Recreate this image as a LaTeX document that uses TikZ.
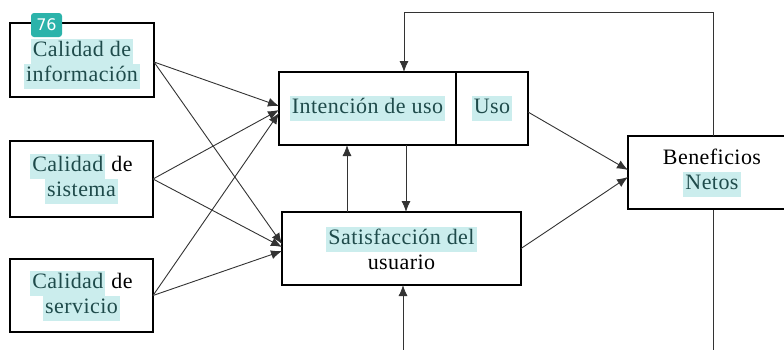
\documentclass[tikz,border=0pt]{standalone}
\usepackage{fontspec}
\setmainfont{Liberation Serif}
\newfontfamily\badgefont{DejaVu Sans}
\usetikzlibrary{arrows.meta,calc}
\definecolor{hlc}{HTML}{CBEDED}
\definecolor{hltxt}{HTML}{1F4B4B}
\definecolor{badge}{HTML}{2BB3AA}
\newcommand\hl[1]{{\setlength\fboxsep{0pt}\colorbox{hlc}{\hspace{2pt}\strut\color{hltxt}#1\hspace{2pt}}}}
\begin{document}
\begin{tikzpicture}[x=1pt,y=-1pt,
  box/.style={draw=black,line width=1.6pt,fill=white,inner sep=0pt,outer sep=0pt,
    align=center,font=\fontsize{22}{25}\selectfont\addfontfeatures{LetterSpace=2}},
  conn/.style={draw=black!80,line width=0.9pt},
  arr/.style={conn,-{Latex[length=11pt,width=9pt]}}]
\useasboundingbox (0,0) rectangle (784,349);
\fill[white] (0,0) rectangle (784,349);
% feedback loop (drawn first so boxes cover it)
\coordinate (fbT) at (713,12);
\coordinate (fbB) at (713,360);
% boxes
\node[box,minimum width=144pt,minimum height=74pt,text depth=0pt] (b1) at (82,60) {\hl{Calidad de}\\\hl{información}};
\node[box,minimum width=143pt,minimum height=76pt] (b2) at (81.5,179) {\hl{Calidad} de\\\hl{sistema}};
\node[box,minimum width=143pt,minimum height=73pt] (b3) at (81.5,295.5) {\hl{Calidad} de\\\hl{servicio}};
\node[box,minimum width=177pt,minimum height=73pt] (int) at (367.5,108.5) {\hl{Intención de uso}};
\node[box,minimum width=72pt,minimum height=73pt] (uso) at (492,108.5) {\hl{Uso}};
\node[box,minimum width=239pt,minimum height=73pt] (sat) at (401.5,248.5) {\hl{Satisfacción del}\\usuario};
\draw[conn] (fbT) -- (fbB);
\node[box,minimum width=168pt,minimum height=73pt] (ben) at (712,172.5) {Beneficios\\\hl{Netos}};
% feedback arrows
\draw[arr] (fbT |- ben.north) -- (fbT) -| ([xshift=36.5pt]int.north);
\draw[arr] (fbB) -| ([xshift=1.5pt]sat.south);
% quality to intention / satisfaction
\draw[arr] ([yshift=-2pt]b1.east) -- ([yshift=2.5pt]int.west);
\draw[arr] (b2.east) -- ([yshift=-1.5pt]int.west);
\draw[arr] (b3.east) -- ([yshift=-4.5pt]int.west);
\draw[arr] ([yshift=-2pt]b1.east) -- ([yshift=4.5pt]sat.west);
\draw[arr] (b2.east) -- ([yshift=1.5pt]sat.west);
\draw[arr] (b3.east) -- ([yshift=-2.5pt]sat.west);
% between intention and satisfaction
\path ([xshift=-54.5pt]sat.north) coordinate (s1);
\draw[arr] (s1) -- (s1 |- int.south);
\path ([xshift=38.5pt]int.south) coordinate (i1);
\draw[arr] (i1) -- (i1 |- sat.north);
% to net benefits
\draw[arr] ([yshift=-3.5pt]uso.east) -- ([yshift=2.5pt]ben.west);
\draw[arr] (sat.east) -- ([yshift=-4.5pt]ben.west);
% badge
\node[fill=badge,rounded corners=3pt,minimum width=31pt,minimum height=24pt,inner sep=0pt,
  text=white,font=\badgefont\fontsize{16}{16}\selectfont] (badge) at (46.5,25) {76};
\end{tikzpicture}
\end{document}
